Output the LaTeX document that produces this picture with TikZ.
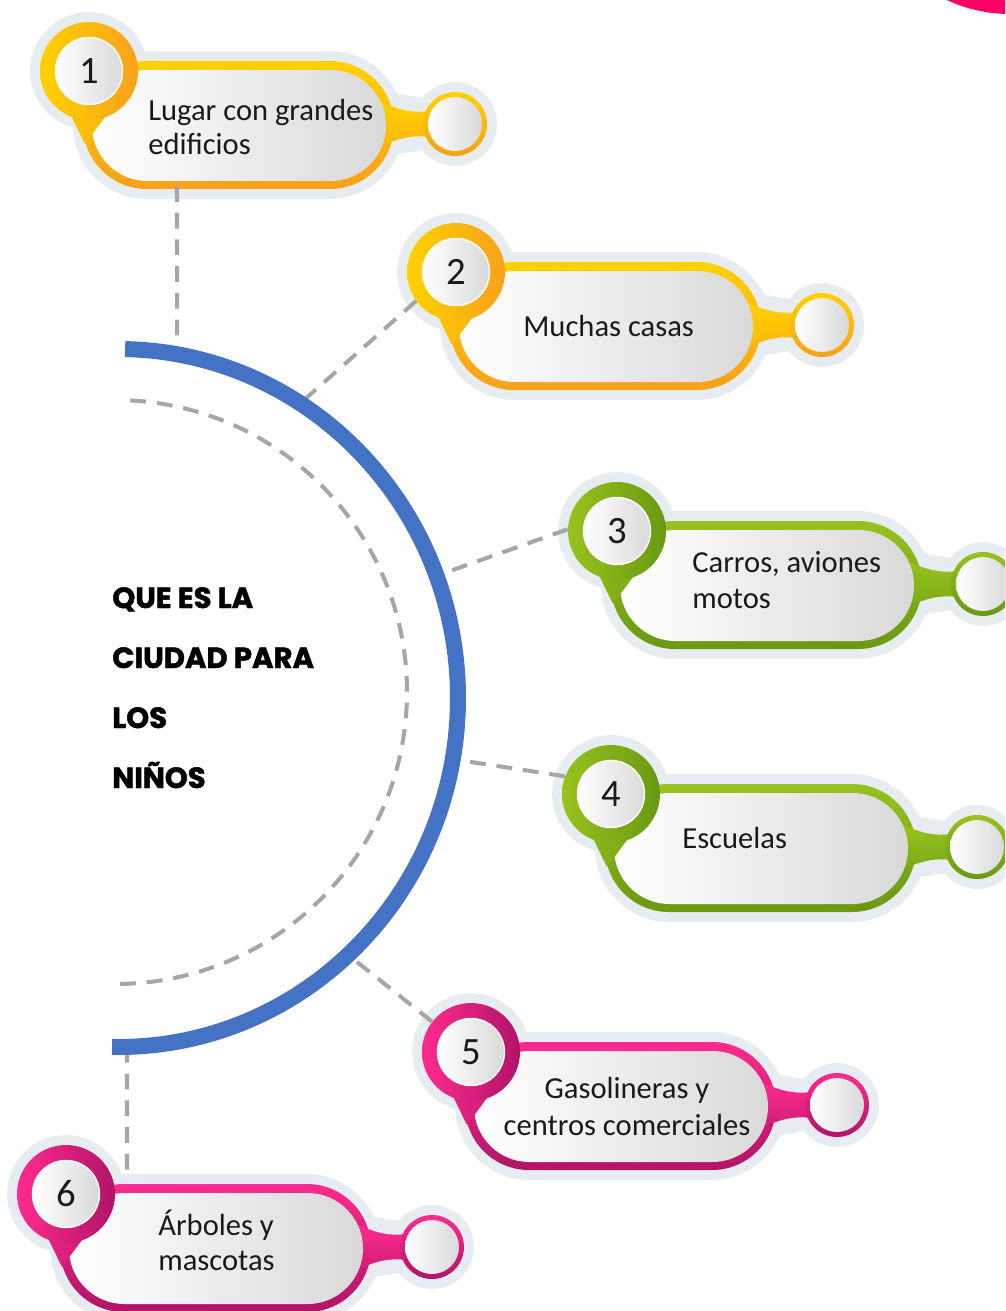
\documentclass[tikz,border=0pt]{standalone}
\usepackage{fontspec}
\setmainfont{Carlito}
\newfontfamily\titlefont[BoldFeatures={FakeBold=1.6}]{Poppins}
\usetikzlibrary{positioning, calc}
\definecolor{halo}{HTML}{E7ECF1}
\definecolor{ink}{HTML}{1A1A1A}
\definecolor{rim}{HTML}{A6A6A6}
\definecolor{arcblue}{HTML}{4472C4}
\definecolor{blob}{HTML}{FF0066}
\definecolor{paper}{HTML}{D9D9D9}
\definecolor{yelA}{HTML}{FFD200}
\definecolor{yelB}{HTML}{F8A11A}
\definecolor{grnA}{HTML}{97C21E}
\definecolor{grnB}{HTML}{6A9912}
\definecolor{pnkA}{HTML}{FF2B8E}
\definecolor{pnkB}{HTML}{B01468}

\tikzset{
  link/.style={draw=rim, line width=2.3pt, dash pattern=on 9pt off 6.2pt},
  ring/.style={circle, inner sep=0pt, minimum size=1.96cm},
  disk/.style={circle, inner sep=0pt, minimum size=1.34cm, left color=white,
    right color=paper, draw=white, line width=0.8pt,
    font=\fontsize{22}{24}\selectfont, text=ink},
  knob/.style={circle, inner sep=0pt, minimum size=1.28cm},
  knobin/.style={circle, inner sep=0pt, minimum size=1.08cm, left color=white,
    right color=paper},
  txt/.style={font=\fontsize{17.4}{20}\selectfont, text=ink, inner sep=0pt},
  heading/.style={font=\titlefont\bfseries\fontsize{16.6}{20}\selectfont,
    inner sep=0pt, anchor=base west},
}

% one numbered bubble: id, x, y of the number, two colours, number
\newcommand{\bubble}[6]{%
  \begin{scope}[shift={(#2,#3)}]
    \filldraw[halo, line width=11.3pt, rounded corners=1.28cm] (-6,-10) rectangle (305,118);
    \filldraw[halo, line width=11.3pt, line join=round] (0,0) circle[radius=49]
      (366,53) circle[radius=32] (290,30) -- (340,38) -- (340,68) -- (290,76) -- cycle;
    \shade[top color=#4, bottom color=#5, rounded corners=1.28cm] (-6,-10) rectangle (305,118);
    \shade[top color=#4, bottom color=#4!40!#5] (290,30) .. controls (312,40) and (325,42) .. (340,40)
      -- (340,66) .. controls (325,64) and (312,66) .. (290,76) -- cycle;
    \shade[left color=white, right color=paper, rounded corners=1.11cm] (3,-1) rectangle (297,110);
    \shade[left color=#4!70!#5, right color=#4!45!#5] (-24,32) -- (-4,73) -- (16,46) -- cycle;
    \node[ring, left color=#4, right color=#5] (n#1) at (0,0) {};
    \node[disk] (d#1) at (n#1) {#6};
    \node[knob, top color=#4, bottom color=#5] (s#1) at (366,53) {};
    \node[knobin] (e#1) at (s#1) {};
  \end{scope}}

\begin{document}
\begin{tikzpicture}[x=0.02cm, y=-0.02cm]
\useasboundingbox (0,0) rectangle (1005,1311);
\clip (0,0) rectangle (1005,1311);
\fill[blob] (1010,-135) circle[radius=149];

\coordinate (ctr) at (118,698);
\coordinate (mid) at (115,692);
\draw[link] (mid) ++(-87:292) arc[start angle=-87, end angle=89.5, radius=292];

\bubble{1}{89}{71}{yelA}{yelB}{1}
\bubble{2}{456}{272}{yelA}{yelB}{2}
\bubble{3}{617}{531}{grnA}{grnB}{3}
\bubble{4}{611}{794}{grnA}{grnB}{4}
\bubble{5}{471}{1052}{pnkA}{pnkB}{5}
\bubble{6}{66}{1194}{pnkA}{pnkB}{6}

\node[txt, anchor=base west] (l1a) at (148,121) {Lugar con grandes};
\node[txt, anchor=base west] (l1b) at (148,155) {edificios};
\node[txt, anchor=base west] (l2a) at (523,336) {Muchas casas};
\node[txt, anchor=base west] (l3a) at (692,572) {Carros, aviones};
\node[txt, anchor=base west] (l3b) at (692,608) {motos};
\node[txt, anchor=base west] (l4a) at (682,848) {Escuelas};
\node[txt, anchor=base] (l5a) at (627,1098) {Gasolineras y};
\node[txt, anchor=base] (l5b) at (627,1135) {centros comerciales};
\node[txt, anchor=base west] (l6a) at (158,1235) {Árboles y};
\node[txt, anchor=base west] (l6b) at (158,1270) {mascotas};

\node[heading] (title1) at (112,608) {QUE ES LA};
\node[heading] (title2) at (112,668) {CIUDAD PARA};
\node[heading] (title3) at (112,728) {LOS};
\node[heading] (title4) at (112,788) {NIÑOS};

% dashed links end under the blue arc
\coordinate (h1) at ($(ctr)+(-80:340 and 349)$);
\coordinate (h2) at ($(ctr)+(-57.6:340 and 349)$);
\coordinate (h3) at ($(ctr)+(-20.5:340 and 349)$);
\coordinate (h4) at ($(ctr)+(10.1:340 and 349)$);
\coordinate (h5) at ($(ctr)+(47.4:340 and 349)$);
\coordinate (h6) at ($(ctr)+(88.48:340 and 349)$);
\coordinate (t1) at (177,186);
\coordinate (t6) at (127,1179);
\draw[link] (t1) -- (h1);
\draw[link] (n2.216) -- (h2);
\draw[link] (n3.178) -- (h3);
\draw[link] (n4.159) -- (h4);
\draw[link] (n5.142) -- (h5);
\draw[link] (h6) -- (t6);

\draw[arcblue, line width=9.1pt] (ctr) ++(-88.8:340 and 349)
  arc[start angle=-88.8, end angle=91, x radius=340, y radius=349];
\end{tikzpicture}
\end{document}
